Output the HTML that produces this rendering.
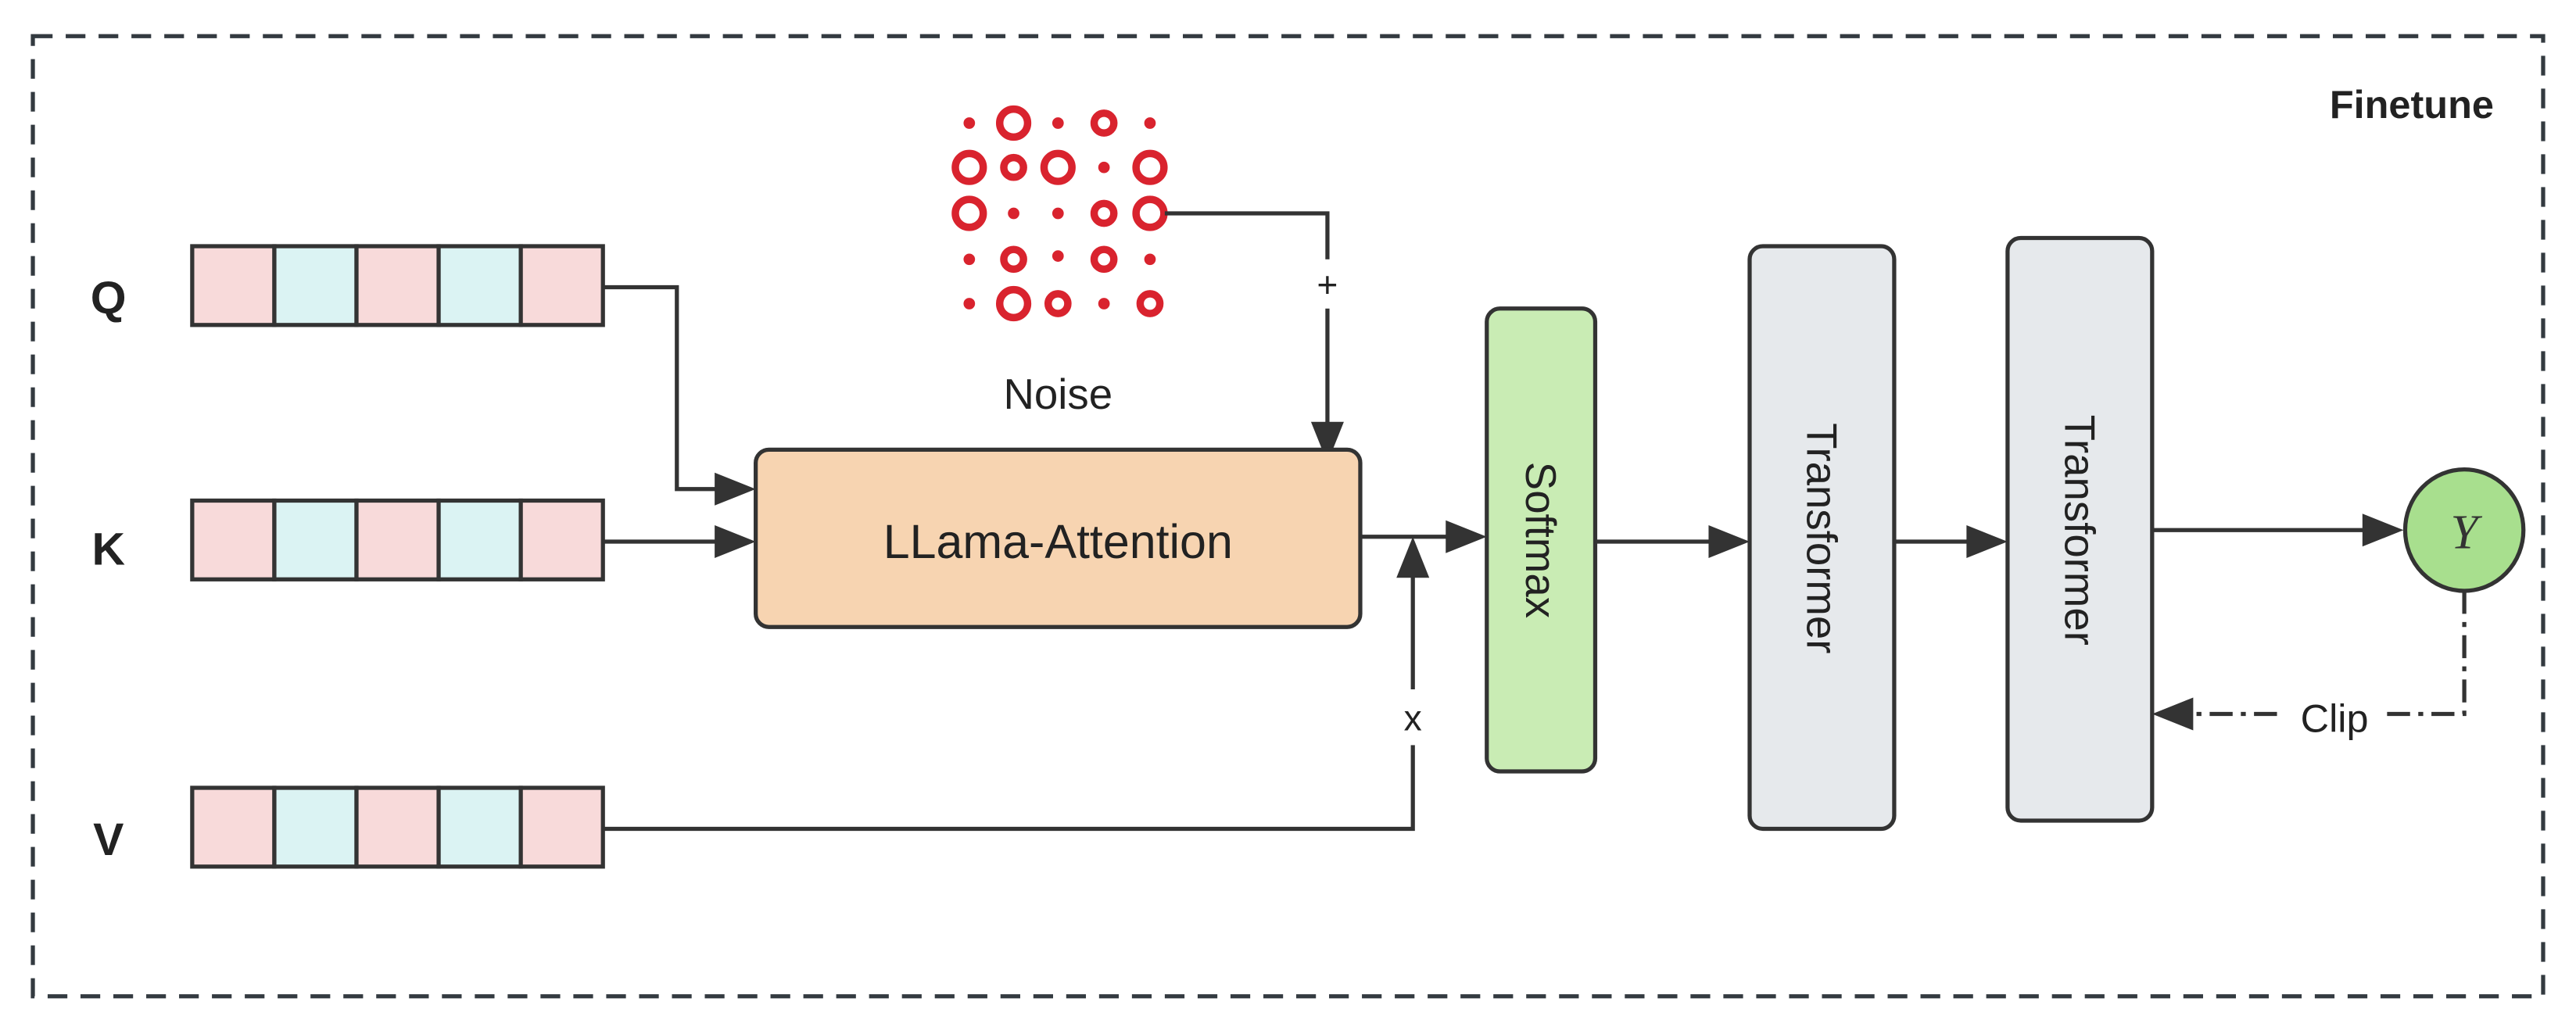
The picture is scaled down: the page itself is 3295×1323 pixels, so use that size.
<!DOCTYPE html>
<html><head><meta charset="utf-8"><style>html,body{margin:0;padding:0;background:#fff}svg{display:block}</style></head>
<body>
<svg width="3295" height="1323" viewBox="0 0 1568 630" preserveAspectRatio="none" xmlns="http://www.w3.org/2000/svg" font-family="'Liberation Sans', sans-serif">
<rect x="20" y="22" width="1528" height="585" fill="none" stroke="#333a40" stroke-width="2.5" stroke-dasharray="12,8"/>
<text x="1518" y="72" text-anchor="end" font-size="24" font-weight="bold" fill="#222">Finetune</text>
<g font-size="28" font-weight="bold" fill="#222" text-anchor="middle">
<text x="66" y="191">Q</text><text x="66" y="344">K</text><text x="66" y="521">V</text></g>
<g stroke="#333" stroke-width="2.5">
<g transform="translate(0,150)"><rect x="117" y="0" width="50" height="48" fill="#f8dada"/><rect x="167" y="0" width="50" height="48" fill="#dbf3f3"/><rect x="217" y="0" width="50" height="48" fill="#f8dada"/><rect x="267" y="0" width="50" height="48" fill="#dbf3f3"/><rect x="317" y="0" width="50" height="48" fill="#f8dada"/></g>
<g transform="translate(0,305)"><rect x="117" y="0" width="50" height="48" fill="#f8dada"/><rect x="167" y="0" width="50" height="48" fill="#dbf3f3"/><rect x="217" y="0" width="50" height="48" fill="#f8dada"/><rect x="267" y="0" width="50" height="48" fill="#dbf3f3"/><rect x="317" y="0" width="50" height="48" fill="#f8dada"/></g>
<g transform="translate(0,480)"><rect x="117" y="0" width="50" height="48" fill="#f8dada"/><rect x="167" y="0" width="50" height="48" fill="#dbf3f3"/><rect x="217" y="0" width="50" height="48" fill="#f8dada"/><rect x="267" y="0" width="50" height="48" fill="#dbf3f3"/><rect x="317" y="0" width="50" height="48" fill="#f8dada"/></g>
</g>
<g fill="#fff" stroke="#d9232e" stroke-width="4.5">
<circle cx="590" cy="75" r="2.5" fill="#d9232e" stroke-width="2"/><circle cx="617" cy="75" r="8.5"/><circle cx="644" cy="75" r="2.5" fill="#d9232e" stroke-width="2"/><circle cx="672" cy="75" r="6"/><circle cx="700" cy="75" r="2.5" fill="#d9232e" stroke-width="2"/>
<circle cx="590" cy="102" r="8.5"/><circle cx="617" cy="102" r="6"/><circle cx="644" cy="102" r="8.5"/><circle cx="672" cy="102" r="2.5" fill="#d9232e" stroke-width="2"/><circle cx="700" cy="102" r="8.5"/>
<circle cx="590" cy="130" r="8.5"/><circle cx="617" cy="130" r="2.5" fill="#d9232e" stroke-width="2"/><circle cx="644" cy="130" r="2.5" fill="#d9232e" stroke-width="2"/><circle cx="672" cy="130" r="6"/><circle cx="700" cy="130" r="8.5"/>
<circle cx="590" cy="158" r="2.5" fill="#d9232e" stroke-width="2"/><circle cx="617" cy="158" r="6"/><circle cx="644" cy="156" r="2.5" fill="#d9232e" stroke-width="2"/><circle cx="672" cy="158" r="6"/><circle cx="700" cy="158" r="2.5" fill="#d9232e" stroke-width="2"/>
<circle cx="590" cy="185" r="2.5" fill="#d9232e" stroke-width="2"/><circle cx="617" cy="185" r="8.5"/><circle cx="644" cy="185" r="6"/><circle cx="672" cy="185" r="2.5" fill="#d9232e" stroke-width="2"/><circle cx="700" cy="185" r="6"/>
</g>
<text x="644" y="249" text-anchor="middle" font-size="26" fill="#222">Noise</text>
<g fill="none" stroke="#333" stroke-width="2.5">
<polyline points="367,175 412,175 412,298 440,298"/>
<line x1="367" y1="330" x2="440" y2="330"/>
<polyline points="709,130 808,130 808,262"/>
<line x1="828" y1="327" x2="885" y2="327"/>
<polyline points="367,505 860,505 860,347"/>
<line x1="971" y1="330" x2="1045" y2="330"/>
<line x1="1153" y1="330" x2="1202" y2="330"/>
<line x1="1310" y1="323" x2="1443" y2="323"/>
<polyline points="1500,360 1500,435 1330,435" stroke-dasharray="14,5,3,5"/>
</g>
<g fill="#333">
<polygon points="435,288 460,298 435,308"/>
<polygon points="435,320 460,330 435,340"/>
<polygon points="798,257 808,282 818,257"/>
<polygon points="880,317 905,327 880,337"/>
<polygon points="850,352 860,327 870,352"/>
<polygon points="1040,320 1065,330 1040,340"/>
<polygon points="1197,320 1222,330 1197,340"/>
<polygon points="1438,313 1463,323 1438,333"/>
<polygon points="1335,425 1310,435 1335,445"/>
</g>
<rect x="797" y="158" width="22" height="30" fill="#fff"/>
<text x="808" y="181" text-anchor="middle" font-size="22" fill="#222">+</text>
<rect x="849" y="420" width="22" height="34" fill="#fff"/>
<text x="860" y="445" text-anchor="middle" font-size="22" fill="#222">x</text>
<rect x="1390" y="420" width="62" height="34" fill="#fff"/>
<text x="1421" y="446" text-anchor="middle" font-size="24" fill="#222">Clip</text>
<rect x="460" y="274" width="368" height="108" rx="8" fill="#f7d4b1" stroke="#333" stroke-width="2.5"/>
<text x="644" y="340" text-anchor="middle" font-size="29" fill="#222">LLama-Attention</text>
<rect x="905" y="188" width="66" height="282" rx="8" fill="#c9ecb4" stroke="#333" stroke-width="2.5"/>
<text transform="translate(929,329) rotate(90)" text-anchor="middle" font-size="26" fill="#222">Softmax</text>
<rect x="1065" y="150" width="88" height="355" rx="8" fill="#e6e9ec" stroke="#333" stroke-width="2.5"/>
<text transform="translate(1100,328) rotate(90)" text-anchor="middle" font-size="26" fill="#222">Transformer</text>
<rect x="1222" y="145" width="88" height="355" rx="8" fill="#e6e9ec" stroke="#333" stroke-width="2.5"/>
<text transform="translate(1257,323) rotate(90)" text-anchor="middle" font-size="26" fill="#222">Transformer</text>
<ellipse cx="1500" cy="323" rx="36" ry="37" fill="#a8df8e" stroke="#333" stroke-width="2.5"/>
<text x="1500" y="334" text-anchor="middle" font-size="30" font-style="italic" font-family="'Liberation Serif', serif" fill="#333">Y</text>
</svg>
</body></html>
